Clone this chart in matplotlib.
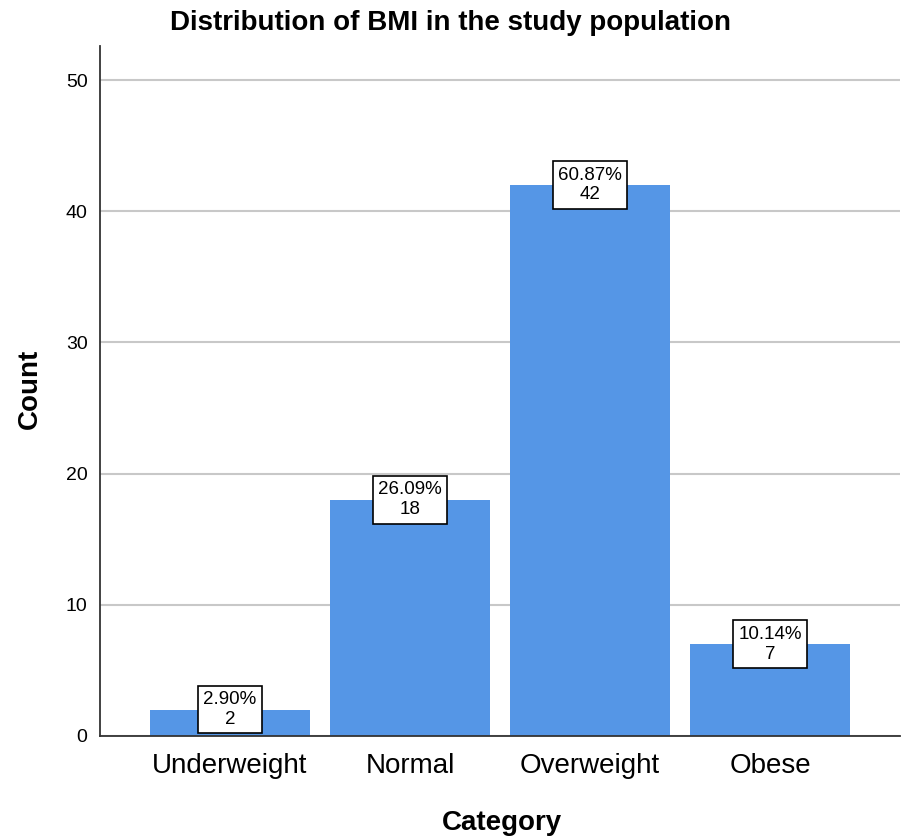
import matplotlib
matplotlib.use("Agg")
import matplotlib.pyplot as plt

categories = ["Underweight", "Normal", "Overweight", "Obese"]
counts = [2, 18, 42, 7]
percent_labels = ["2.90%", "26.09%", "60.87%", "10.14%"]
yticks = [0, 10, 20, 30, 40, 50]

plt.rcParams['font.family'] = ['Liberation Sans', 'DejaVu Sans']

fig = plt.figure(figsize=(9.01, 8.39), dpi=100)
ax = fig.add_axes([100/901, 103/839, 800/901, 690/839])

x = list(range(len(categories)))
ax.bar(x, counts, width=0.889, color='#5596e6', zorder=2)
ax.set_xlim(-0.722, 3.722)
ax.set_ylim(0, 52.6)
ax.set_yticks(yticks)
ax.set_xticks(x)
ax.set_xticklabels(categories, fontsize=20)
ax.tick_params(axis='y', length=0, pad=9, labelsize=14)
ax.tick_params(axis='x', length=0, pad=12)
ax.yaxis.grid(True, color='#c8c8c8', linewidth=1.5, zorder=0)
ax.set_axisbelow(True)
for s in ['top', 'right']:
    ax.spines[s].set_visible(False)
for s in ['left', 'bottom']:
    ax.spines[s].set_color('#333333')
    ax.spines[s].set_linewidth(1.3)

for xi, c, p in zip(x, counts, percent_labels):
    ax.text(xi, c, f"{p}\n{c}", ha='center', va='center', fontsize=13.5,
            linespacing=1.22, zorder=4,
            bbox=dict(boxstyle='square,pad=0.28', facecolor='white',
                      edgecolor='black', linewidth=1.2))

fig.text(450/901, 1 - 23/839, "Distribution of BMI in the study population",
         ha='center', va='center', fontsize=20, fontweight='bold')
fig.text(30/901, 1 - 389/839, "Count", rotation=90, ha='center', va='center',
         fontsize=20, fontweight='bold')
fig.text(502/901, 1 - 823/839, "Category", ha='center', va='center',
         fontsize=20, fontweight='bold')

fig.savefig("out.png", dpi=100)
